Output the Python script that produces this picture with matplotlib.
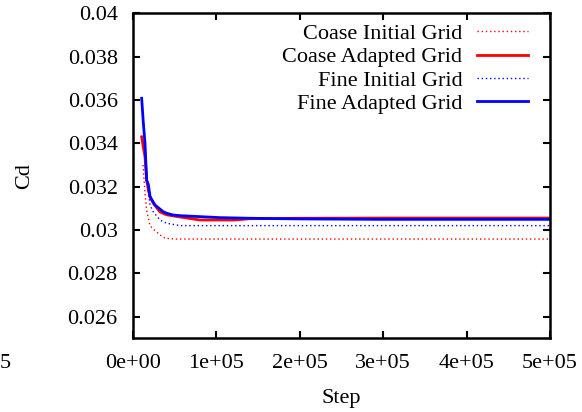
import matplotlib
matplotlib.use("Agg")
import matplotlib.pyplot as plt

plt.rcParams['font.family'] = ['Liberation Serif', 'DejaVu Serif']

# Coarse grid, initial (red dotted)
ciSteps = [1.2e4, 1.44e4, 1.64e4, 2.04e4, 2.64e4, 3.24e4, 3.84e4, 5e4, 1e5, 2e5, 3e5, 4e5, 5e5]
ciCd = [0.0330, 0.0317, 0.0309, 0.0302, 0.02997, 0.02977, 0.02962, 0.02958, 0.02958,
        0.02958, 0.02958, 0.02958, 0.02958]

# Coarse grid, adapted (red solid)
caSteps = [1.04e4, 1.23e4, 1.44e4, 1.64e4, 1.84e4, 2.04e4, 2.43e4, 3.24e4, 4.04e4, 5.64e4,
           6.83e4, 8.03e4, 1.04e5, 1.22e5, 1.4e5, 2e5, 3e5, 4e5, 5e5]
caCd = [0.0343, 0.03384, 0.03338, 0.03231, 0.03185, 0.03154, 0.03124, 0.03083, 0.0307, 0.0306,
        0.03053, 0.03046, 0.03046, 0.03046, 0.03052, 0.03054, 0.03055, 0.03055, 0.03055]

# Fine grid, initial (blue dotted)
fiSteps = [1.84e4, 2.04e4, 2.43e4, 3.24e4, 4.04e4, 5.64e4, 1e5, 2e5, 3e5, 4e5, 5e5]
fiCd = [0.0318, 0.03115, 0.03084, 0.03046, 0.03031, 0.0302, 0.0302, 0.0302, 0.0302, 0.0302, 0.0302]

# Fine grid, adapted (blue solid)
faSteps = [1.04e4, 1.23e4, 1.44e4, 1.64e4, 1.84e4, 2.04e4, 2.64e4, 3.64e4, 4.04e4, 4.84e4,
           5.64e4, 1.04e5, 1.4e5, 2e5, 3e5, 4e5, 5e5]
faCd = [0.03608, 0.0350, 0.0340, 0.0323, 0.0321, 0.03154, 0.03115, 0.03084, 0.03077, 0.03069,
        0.03066, 0.03057, 0.03054, 0.03051, 0.03049, 0.03049, 0.03049]

xTicks = [0, 1e5, 2e5, 3e5, 4e5, 5e5]
xLabels = ['0e+00', '1e+05', '2e+05', '3e+05', '4e+05', '5e+05']
yTicks = [0.026, 0.028, 0.03, 0.032, 0.034, 0.036, 0.038, 0.04]
yLabels = ['0.026', '0.028', '0.03', '0.032', '0.034', '0.036', '0.038', '0.04']

fig = plt.figure(figsize=(5.82, 4.12), dpi=100)
ax = fig.add_axes([0.2285, 0.179, 0.7165, 0.7885])

dotted = (0, (1, 2))
ax.plot(ciSteps, ciCd, color='#ff0000', lw=1.0, linestyle=dotted, label='Coase Initial Grid')
ax.plot(caSteps, caCd, color='#ff0000', lw=2.0, label='Coase Adapted Grid')
ax.plot(fiSteps, fiCd, color='#0000ff', lw=1.0, linestyle=dotted, label='Fine Initial Grid')
ax.plot(faSteps, faCd, color='#0000ff', lw=2.0, label='Fine Adapted Grid')

ax.set_xlim(0, 5e5)
ax.set_ylim(0.025, 0.04)
ax.set_xticks(xTicks, xLabels)
ax.set_yticks(yTicks, yLabels)
ax.tick_params(direction='in', top=True, right=True, length=5, width=1.5, labelsize=16)
ax.tick_params(axis='y', pad=11)
ax.tick_params(axis='x', pad=11)
for s in ax.spines.values():
  s.set_linewidth(1.8)

ax.set_xlabel('Step', fontsize=16, labelpad=12)
ax.set_ylabel('Cd', fontsize=16, labelpad=24)

ax.legend(loc='upper right', bbox_to_anchor=(0.995, 1.03), frameon=False, markerfirst=False,
          fontsize=16, handlelength=2.3, handletextpad=0.65, labelspacing=0.12)

# stray label from a neighbouring panel
fig.text(0.0, 1 - 363 / 412, '5', fontsize=16, ha='left', va='center')

fig.savefig('out.png', dpi=100)
